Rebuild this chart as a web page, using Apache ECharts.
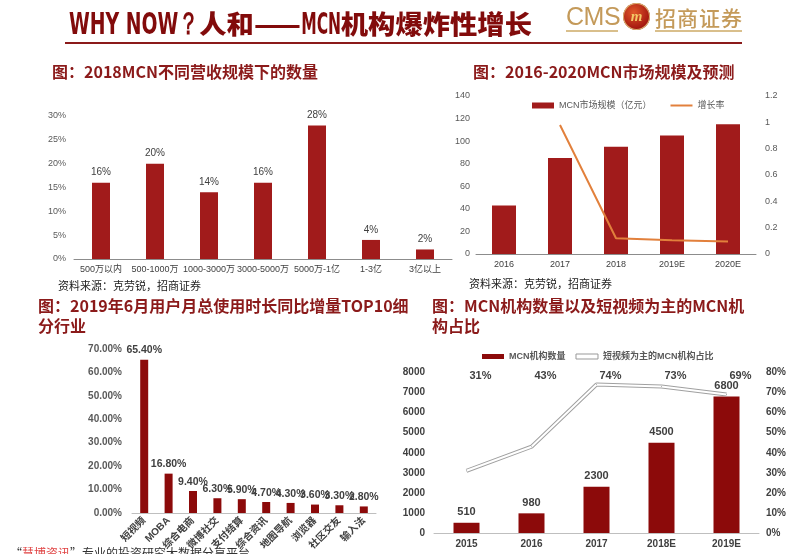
<!DOCTYPE html>
<html>
<head>
<meta charset="utf-8">
<script src="https://cdn.jsdelivr.net/npm/echarts/dist/echarts.min.js"></script>
<style>
  body { margin: 0; background: #fff; }
  #wrap { position: relative; width: 802px; height: 554px; overflow: hidden; font-family: 'Noto Sans CJK SC', sans-serif; }
  #app { position: absolute; left: 0; top: 0; width: 802px; height: 554px; }
  #head { position: absolute; left: 69px; top: 8px; white-space: nowrap; color: #820b0b; font-size: 26px; line-height: 30px; font-weight: 900; transform-origin: 0 0; }
  #head .lat { display: inline-block; font-family: 'DejaVu Sans Condensed', 'DejaVu Sans', sans-serif; font-weight: bold; font-size: 31px; transform-origin: 0 0; }
  .rule { position: absolute; }
  .t { position: absolute; color: #8b1a1a; font-weight: bold; font-size: 16px; line-height: 19.5px; white-space: nowrap; }
  .src { position: absolute; font-size: 11px; line-height: 13px; color: #222; white-space: nowrap; }
</style>
</head>
<body>
<div id="wrap">
  <div id="app"></div>

  <div id="head"><span class="lat" data-w="124">WHY NOW？</span>人和——<span class="lat" data-w="38">MCN</span>机构爆炸性增长</div>
  <div class="rule" style="left:65px;top:42px;width:677px;height:2px;background:#8b1a1a;"></div>

  <!-- logo -->
  <div style="position:absolute;left:566px;top:4px;font-family:'Liberation Sans',sans-serif;font-size:25px;line-height:25px;color:#c49a5a;letter-spacing:-0.5px;">CMS</div>
  <div style="position:absolute;left:623px;top:3px;width:27px;height:27px;border-radius:50%;background:radial-gradient(circle at 40% 35%,#e0582a,#a3160f 70%);box-shadow:0 0 0 1px #d8b070 inset;color:#f3c866;font:italic bold 15px/27px 'Liberation Serif',serif;text-align:center;">m</div>
  <div style="position:absolute;left:655px;top:5px;font-size:21px;line-height:24px;font-weight:500;color:#c49a5a;letter-spacing:1px;white-space:nowrap;">招商证券</div>
  <div class="rule" style="left:566px;top:30px;width:52px;height:1.5px;background:#d9bf8c;"></div>
  <div class="rule" style="left:655px;top:30px;width:87px;height:1.5px;background:#d9bf8c;"></div>

  <!-- chart titles -->
  <div class="t" style="left:52px;top:62px;">图：2018MCN不同营收规模下的数量</div>
  <div class="t" style="left:473px;top:62px;">图：2016-2020MCN市场规模及预测</div>
  <div class="t" style="left:38px;top:296px;">图：2019年6月用户月总使用时长同比增量TOP10细<br>分行业</div>
  <div class="t" style="left:432px;top:296px;">图：MCN机构数量以及短视频为主的MCN机<br>构占比</div>

  <div class="src" style="left:58px;top:279px;">资料来源：克劳锐，招商证券</div>
  <div class="src" style="left:469px;top:277px;">资料来源：克劳锐，招商证券</div>

  <div style="position:absolute;left:10px;top:546px;font-size:12px;line-height:14px;color:#333;white-space:nowrap;">“<span style="color:#e04343;">慧博资讯</span>”专业的投资研究大数据分享平台</div>
</div>

<script>
// 营收规模分布
const scaleCats = ['500万以内', '500-1000万', '1000-3000万', '3000-5000万', '5000万-1亿', '1-3亿', '3亿以上'];
const scaleShare = [16, 20, 14, 16, 28, 4, 2];

// 市场规模及增长率
const marketYears = ['2016', '2017', '2018', '2019E', '2020E'];
const marketSize = [43, 85, 95, 105, 115];
const marketGrowth = [null, 0.98, 0.12, 0.105, 0.095];

// TOP10细分行业
const industryCats = ['短视频', 'MOBA', '综合电商', '微博社交', '支付结算', '综合资讯', '地图导航', '浏览器', '社区交友', '输入法'];
const industryGrowth = [65.4, 16.8, 9.4, 6.3, 5.9, 4.7, 4.3, 3.6, 3.3, 2.8];

// MCN机构数量 / 短视频占比
const mcnYears = ['2015', '2016', '2017', '2018E', '2019E'];
const mcnCount = [510, 980, 2300, 4500, 6800];
const shortVideoShare = [31, 43, 74, 73, 69];

// header: squeeze the latin parts like the condensed font in the slide
document.querySelectorAll('#head .lat').forEach((el) => {
  const w = el.getBoundingClientRect().width;
  const k = Number(el.dataset.w) / w;
  el.style.transform = 'scaleX(' + k + ')';
  el.style.marginRight = -(w - w * k) + 'px';
});
const head = document.getElementById('head');
head.style.transform = 'scaleX(' + 463 / head.getBoundingClientRect().width + ')';

const font = "'Liberation Sans', 'Noto Sans CJK SC', sans-serif";
const red1 = '#a11b1b';
const red2 = '#8c0a0a';
const noLine = { show: false };

const myChart = echarts.init(document.getElementById('app'));
const option = {
  animation: false,
  textStyle: { fontFamily: font },
  grid: [
    { left: 74, top: 116, width: 378, height: 143 },
    { left: 476, top: 96, width: 280, height: 158 },
    { left: 132, top: 349, width: 244, height: 164 },
    { left: 434, top: 372.5, width: 325, height: 160.5 }
  ],
  legend: [
    {
      left: 527,
      top: 96,
      itemWidth: 22,
      itemHeight: 6,
      itemGap: 19,
      textStyle: { fontSize: 9, color: '#595959', fontFamily: font },
      data: [
        { name: 'MCN市场规模（亿元）', icon: 'rect' },
        { name: '增长率', icon: 'path://M0,0H22V2H0Z', itemStyle: { color: '#e2803c' } }
      ]
    },
    {
      left: 477,
      top: 347,
      itemWidth: 22,
      itemHeight: 5,
      itemGap: 10,
      textStyle: { fontSize: 9, fontWeight: 'bold', color: '#595959', fontFamily: font },
      data: [
        { name: 'MCN机构数量', icon: 'rect' },
        {
          name: '短视频为主的MCN机构占比',
          icon: 'rect',
          itemStyle: { color: '#fff', borderColor: '#999', borderWidth: 1 }
        }
      ]
    }
  ],
  xAxis: [
    {
      gridIndex: 0,
      type: 'category',
      data: scaleCats,
      axisLine: { lineStyle: { color: '#8c8c8c' } },
      axisTick: { length: 4, lineStyle: { color: '#8c8c8c' } },
      axisLabel: { interval: 0, fontSize: 9, color: '#404040', margin: 6 }
    },
    {
      gridIndex: 1,
      type: 'category',
      data: marketYears,
      axisLine: { lineStyle: { color: '#8c8c8c' } },
      axisTick: { length: 4, lineStyle: { color: '#8c8c8c' } },
      axisLabel: { fontSize: 9, color: '#404040', margin: 6 }
    },
    {
      gridIndex: 2,
      type: 'category',
      data: industryCats,
      axisLine: { lineStyle: { color: '#bfbfbf' } },
      axisTick: noLine,
      axisLabel: { interval: 0, rotate: 45, fontSize: 10, fontWeight: 'bold', color: '#404040', margin: 6 }
    },
    {
      gridIndex: 3,
      type: 'category',
      data: mcnYears,
      axisLine: { lineStyle: { color: '#bfbfbf' } },
      axisTick: noLine,
      axisLabel: { fontSize: 10, fontWeight: 'bold', color: '#404040', margin: 6 }
    }
  ],
  yAxis: [
    {
      gridIndex: 0,
      min: 0,
      max: 30,
      interval: 5,
      axisLine: noLine,
      axisTick: noLine,
      splitLine: noLine,
      axisLabel: { formatter: '{value}%', fontSize: 9, color: '#595959', margin: 8 }
    },
    {
      gridIndex: 1,
      min: 0,
      max: 140,
      interval: 20,
      axisLine: noLine,
      axisTick: noLine,
      splitLine: noLine,
      axisLabel: { fontSize: 9, color: '#595959', margin: 6 }
    },
    {
      gridIndex: 1,
      position: 'right',
      min: 0,
      max: 1.2,
      interval: 0.2,
      axisLine: noLine,
      axisTick: noLine,
      splitLine: noLine,
      axisLabel: { fontSize: 9, color: '#595959', margin: 9 }
    },
    {
      gridIndex: 2,
      min: 0,
      max: 70,
      interval: 10,
      axisLine: noLine,
      axisTick: noLine,
      splitLine: noLine,
      axisLabel: {
        formatter: (v) => v.toFixed(2) + '%',
        fontSize: 10,
        fontWeight: 'bold',
        color: '#595959',
        margin: 10
      }
    },
    {
      gridIndex: 3,
      min: 0,
      max: 8000,
      interval: 1000,
      axisLine: noLine,
      axisTick: noLine,
      splitLine: noLine,
      axisLabel: { formatter: (v) => String(v), fontSize: 10, fontWeight: 'bold', color: '#404040', margin: 9 }
    },
    {
      gridIndex: 3,
      position: 'right',
      min: 0,
      max: 80,
      interval: 10,
      axisLine: noLine,
      axisTick: noLine,
      splitLine: noLine,
      axisLabel: { formatter: '{value}%', fontSize: 10, fontWeight: 'bold', color: '#404040', margin: 7 }
    }
  ],
  series: [
    {
      type: 'bar',
      xAxisIndex: 0,
      yAxisIndex: 0,
      data: scaleShare,
      barWidth: 18,
      itemStyle: { color: red1 },
      label: { show: true, position: 'top', distance: 5, formatter: '{c}%', fontSize: 10, color: '#404040' }
    },
    {
      name: 'MCN市场规模（亿元）',
      type: 'bar',
      xAxisIndex: 1,
      yAxisIndex: 1,
      data: marketSize,
      barWidth: 24,
      itemStyle: { color: red1 }
    },
    {
      name: '增长率',
      type: 'line',
      xAxisIndex: 1,
      yAxisIndex: 2,
      data: marketGrowth,
      symbol: 'none',
      lineStyle: { color: '#e2803c', width: 2 },
      itemStyle: { color: '#e2803c' }
    },
    {
      type: 'bar',
      xAxisIndex: 2,
      yAxisIndex: 3,
      data: industryGrowth,
      barWidth: 8,
      itemStyle: { color: red2 },
      label: {
        show: true,
        position: 'top',
        distance: 4,
        formatter: (p) => p.value.toFixed(2) + '%',
        fontSize: 10.5,
        fontWeight: 'bold',
        color: '#404040'
      }
    },
    {
      name: 'MCN机构数量',
      type: 'bar',
      xAxisIndex: 3,
      yAxisIndex: 4,
      data: mcnCount,
      barWidth: 26,
      itemStyle: { color: red2 },
      label: { show: true, position: 'top', distance: 5, fontSize: 11, fontWeight: 'bold', color: '#404040' }
    },
    {
      name: '短视频为主的MCN机构占比',
      type: 'line',
      xAxisIndex: 3,
      yAxisIndex: 5,
      data: shortVideoShare,
      symbol: 'circle',
      symbolSize: 1,
      lineStyle: { color: '#a0a0a0', width: 4 },
      itemStyle: { color: '#a0a0a0' },
      label: { show: true, formatter: '{c}%', fontSize: 11, fontWeight: 'bold', color: '#404040' },
      // labels sit in a row near the top of the plot, like the slide
      labelLayout: () => ({ y: 376, dx: 14, align: 'center', verticalAlign: 'middle' })
    },
    {
      name: 'inner',
      type: 'line',
      xAxisIndex: 3,
      yAxisIndex: 5,
      data: shortVideoShare,
      symbol: 'none',
      silent: true,
      lineStyle: { color: '#fff', width: 2 },
      z: 3
    }
  ]
};

myChart.setOption(option);
</script>
</body>
</html>
